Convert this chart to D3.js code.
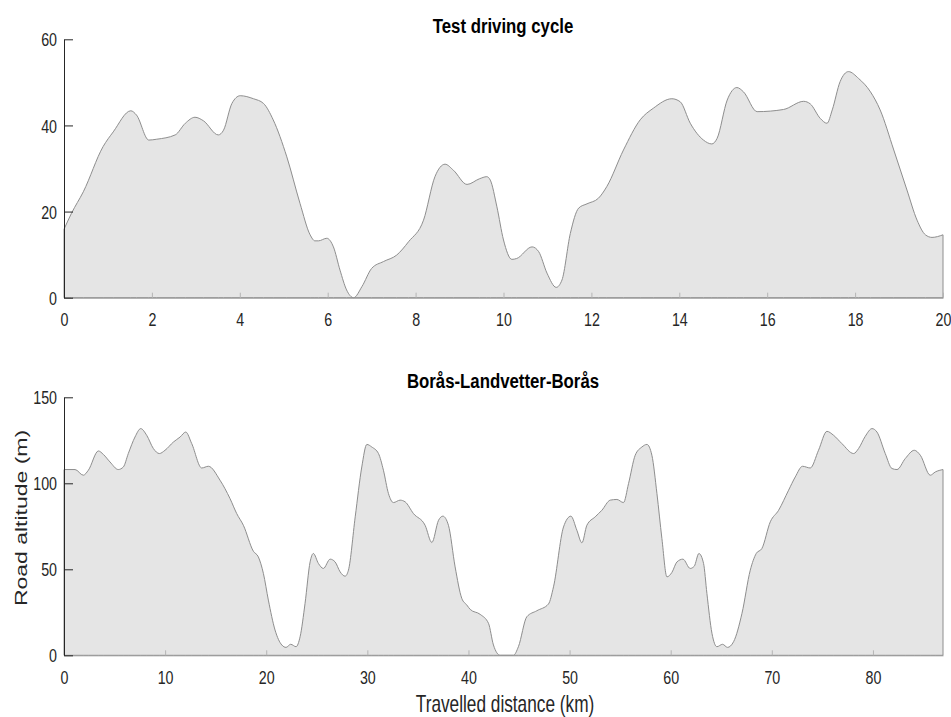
<!DOCTYPE html>
<html>
<head>
<meta charset="utf-8">
<script src="https://cdn.jsdelivr.net/npm/d3@7"></script>
<style>
  html, body { margin: 0; padding: 0; background: #fff; }
  svg { display: block; font-family: "Liberation Sans", Arial, Helvetica, sans-serif; }
</style>
</head>
<body>
<svg id="chart" width="951" height="717"></svg>
<script>
// Test driving cycle: distance (km) and road altitude (m)
const cycleDist = [0, 0.17, 0.44, 0.89, 1.12, 1.52, 1.65, 1.93, 2.11, 2.53, 2.76, 2.98, 3.17, 3.51, 3.63,
  3.82, 4.01, 4.31, 4.54, 4.76, 5.07, 5.37, 5.6, 5.71, 5.79, 5.98, 6.13, 6.28, 6.43, 6.59, 6.78, 7.0,
  7.27, 7.57, 7.84, 8.18, 8.44, 8.67, 8.86, 9.17, 9.45, 9.62, 9.70, 9.85, 10.0, 10.19, 10.3, 10.65,
  10.8, 10.99, 11.2, 11.33, 11.52, 11.71, 11.9, 12.16, 12.35, 12.73, 13.11, 13.41, 13.83, 14.02,
  14.25, 14.55, 14.74, 14.86, 15.09, 15.31, 15.46, 15.77, 16.37, 16.83, 16.98, 17.21, 17.36, 17.48,
  17.66, 17.85, 18.08, 18.35, 18.57, 18.88, 19.18, 19.41, 19.6, 19.75, 20];
const cycleAlt = [15.9, 19.6, 24.6, 35.1, 38.5, 43.4, 42.4, 36.6, 36.8, 37.8, 40.5, 41.9, 41.1, 37.8, 38.9,
  45.1, 46.9, 46.2, 45.1, 41.3, 32.7, 21.9, 14.6, 13.2, 13.2, 13.8, 11.8, 6.4, 1.8, 0, 2.6, 6.8,
  8.4, 9.9, 13.0, 18.0, 28.1, 31.0, 29.6, 26.3, 27.6, 28.1, 27.3, 21.1, 13.4, 8.9, 9.1, 11.8,
  10.7, 5.7, 2.4, 4.1, 14.9, 20.8, 21.8, 23.1, 25.8, 34.3, 41.3, 44.0, 46.2, 45.5,
  40.5, 36.6, 35.7, 37.0, 45.9, 48.8, 47.8, 43.2, 43.7, 45.6, 45.0, 41.6, 40.5, 43.6,
  50.2, 52.5, 50.9, 47.8, 43.6, 34.3, 25.0, 18.0, 14.6, 14.0, 14.6];

// Borås-Landvetter-Borås route: distance (km) and road altitude (m)
const routeDist = [0, 1.09, 1.91, 2.41, 3.4, 3.89, 4.55, 5.37, 5.87, 6.36, 7.02, 7.59, 8.18, 8.84, 9.43,
  9.99, 10.82, 11.48, 12.04, 12.63, 13.62, 14.28, 15.43, 16.42, 17.08, 17.74, 18.73, 19.22, 19.72,
  20.21, 20.87, 21.54, 21.96, 22.42, 22.95, 23.35, 23.84, 24.34, 24.66, 25.16, 25.65, 26.32, 26.81,
  27.31, 27.8, 28.13, 28.8, 29.45, 29.95, 30.44, 31.1, 31.59, 32.09, 32.58, 33.24, 33.74, 34.56,
  35.71, 36.38, 37.04, 37.47, 38.02, 38.68, 39.34, 39.84, 40.17, 41.16, 41.98, 42.47, 43.13,
  44.45, 44.94, 45.77, 46.76, 47.91, 48.41, 49.4, 50.13, 50.72, 51.22, 51.71, 52.53, 53.19, 54.02,
  54.68, 55.33, 55.83, 56.49, 57.15, 57.65, 58.14, 58.64, 59.13, 59.63, 60.12, 60.62, 61.21, 61.93,
  62.33, 62.79, 63.25, 63.58, 64.08, 64.57, 65.13, 65.62, 66.22, 67.05, 67.87, 68.46, 69.02, 69.85,
  70.67, 71.66, 72.32, 73.04, 73.8, 74.62, 75.45, 76.11, 76.93, 78.09, 78.58, 79.24, 79.91, 80.4,
  81.22, 81.88, 82.38, 83.2, 84.09, 84.69, 85.67, 86.17, 86.93];
const routeAlt = [108.0, 108.0, 104.7, 107.6, 118.8, 116.8, 112.4, 108.0, 109.5, 117.3, 126.9, 131.8, 127.9, 120.2, 117.3,
  119.2, 124.0, 126.9, 129.8, 123.1, 108.9, 109.9, 101.8, 91.1, 82.4, 75.6, 60.5, 57.2, 47.6,
  32.1, 14.7, 6.0, 4.6, 6.4, 5.0, 10.8, 30.2, 54.3, 59.2, 53.4, 50.5, 55.9, 54.3,
  48.5, 46.0, 49.5, 80.5, 109.5, 122.6, 121.1, 117.3, 107.6, 94.0, 88.8, 90.2, 89.2, 82.4,
  75.6, 65.6, 78.5, 80.9, 75.6, 51.4, 33.1, 29.2, 26.7, 23.8, 18.6, 6.0, 0,
  0, 5.0, 22.4, 25.9, 29.8, 39.8, 74.6, 80.9, 72.7, 65.4, 75.6, 80.5, 84.3, 90.2,
  90.6, 88.8, 99.8, 116.3, 121.1, 122.6, 116.3, 94.0, 67.9, 45.6, 48.2, 54.3, 55.9, 50.5,
  51.8, 59.2, 53.4, 36.0, 12.8, 5.0, 6.4, 4.6, 7.9, 24.4, 49.5, 59.2, 62.1, 77.6,
  84.3, 96.0, 103.7, 109.9, 108.9, 119.2, 130.2, 127.9, 123.1, 117.3, 120.2, 127.3, 131.8, 129.8,
  117.3, 108.6, 108.0, 114.4, 119.2, 116.3, 104.7, 106.6, 108.0];

// Tick values
const cycleXTicks = [0, 2, 4, 6, 8, 10, 12, 14, 16, 18, 20];
const cycleYTicks = [0, 20, 40, 60];
const routeXTicks = [0, 10, 20, 30, 40, 50, 60, 70, 80];
const routeYTicks = [0, 50, 100, 150];

const svg = d3.select("#chart");
const SX = 0.75;          // horizontal squeeze applied to all text
const FILL = "#e5e5e5", EDGE = "#8e8e8e", INK = "#262626";
const FONT = '"Liberation Sans", Arial, Helvetica, sans-serif';
const TICK_SIZE = 19;

function squeezedText(g, x, y, txt, opts) {
  const o = Object.assign({ size: 18, weight: "normal", anchor: "middle", sx: SX, rotate: false, fill: INK }, opts);
  g.append("text")
    .attr("transform", `translate(${x},${y}) scale(${o.sx},1)` + (o.rotate ? " rotate(-90)" : ""))
    .attr("text-anchor", o.anchor)
    .attr("font-family", FONT)
    .attr("font-size", o.size)
    .attr("font-weight", o.weight)
    .attr("fill", o.fill)
    .text(txt);
}

function panel(cfg) {
  const g = svg.append("g");
  const x = d3.scaleLinear().domain([0, cfg.xMax]).range([64, 943]);
  const y = d3.scaleLinear().domain([0, cfg.yMax]).range([cfg.bottom, cfg.top]);
  const data = cfg.dist.map((d, i) => ({ d, a: cfg.alt[i] }));

  const area = d3.area()
    .x(p => x(p.d))
    .y0(y(0))
    .y1(p => y(p.a))
    .curve(d3.curveMonotoneX);

  // Altitude profile, closed down to sea level
  g.append("path")
    .datum(data)
    .attr("d", d => area(d) + "Z")
    .attr("fill", FILL)
    .attr("stroke", EDGE)
    .attr("stroke-width", 1)
    .attr("stroke-linejoin", "round");

  // Bottom axis: light inward ticks
  const xa = g.append("g")
    .attr("transform", `translate(0,${cfg.bottom})`)
    .call(d3.axisBottom(x).tickValues(cfg.xTicks).tickSizeInner(-5).tickSizeOuter(0).tickFormat(d3.format("d")))
    .attr("font-family", FONT).attr("font-size", TICK_SIZE);
  xa.select(".domain").attr("stroke", "#9a9a9a");
  xa.selectAll(".tick line").attr("stroke", "#b5b5b5");
  xa.selectAll(".tick text")
    .attr("y", 0).attr("dy", "0.35em")
    .attr("transform", `translate(0,22) scale(${SX},1)`)
    .attr("fill", INK);

  // Left axis: dark line, inward ticks
  const ya = g.append("g")
    .attr("transform", "translate(64,0)")
    .call(d3.axisLeft(y).tickValues(cfg.yTicks).tickSizeInner(-9).tickSizeOuter(0).tickFormat(d3.format("d")))
    .attr("font-family", FONT).attr("font-size", TICK_SIZE);
  ya.select(".domain").attr("stroke", INK);
  ya.selectAll(".tick line").attr("stroke", INK);
  ya.selectAll(".tick text")
    .attr("x", 0).attr("dy", "0.35em")
    .attr("transform", `translate(-7,0) scale(${SX},1)`)
    .attr("fill", INK);

  squeezedText(g, 503, cfg.titleY, cfg.title, { size: 21, weight: "bold", sx: 0.8, fill: "#000" });
  return g;
}

panel({ dist: cycleDist, alt: cycleAlt, xMax: 20, yMax: 60, top: 39.3, bottom: 297.7,
        xTicks: cycleXTicks, yTicks: cycleYTicks, title: "Test driving cycle", titleY: 33 });
panel({ dist: routeDist, alt: routeAlt, xMax: 86.93, yMax: 150, top: 397.3, bottom: 655.3,
        xTicks: routeXTicks, yTicks: routeYTicks, title: "Borås-Landvetter-Borås", titleY: 388 });

// Axis titles
squeezedText(svg, 505, 712, "Travelled distance (km)", { size: 23 });
squeezedText(svg, 27, 518, "Road altitude (m)", { size: 23, rotate: true });
</script>
</body>
</html>
